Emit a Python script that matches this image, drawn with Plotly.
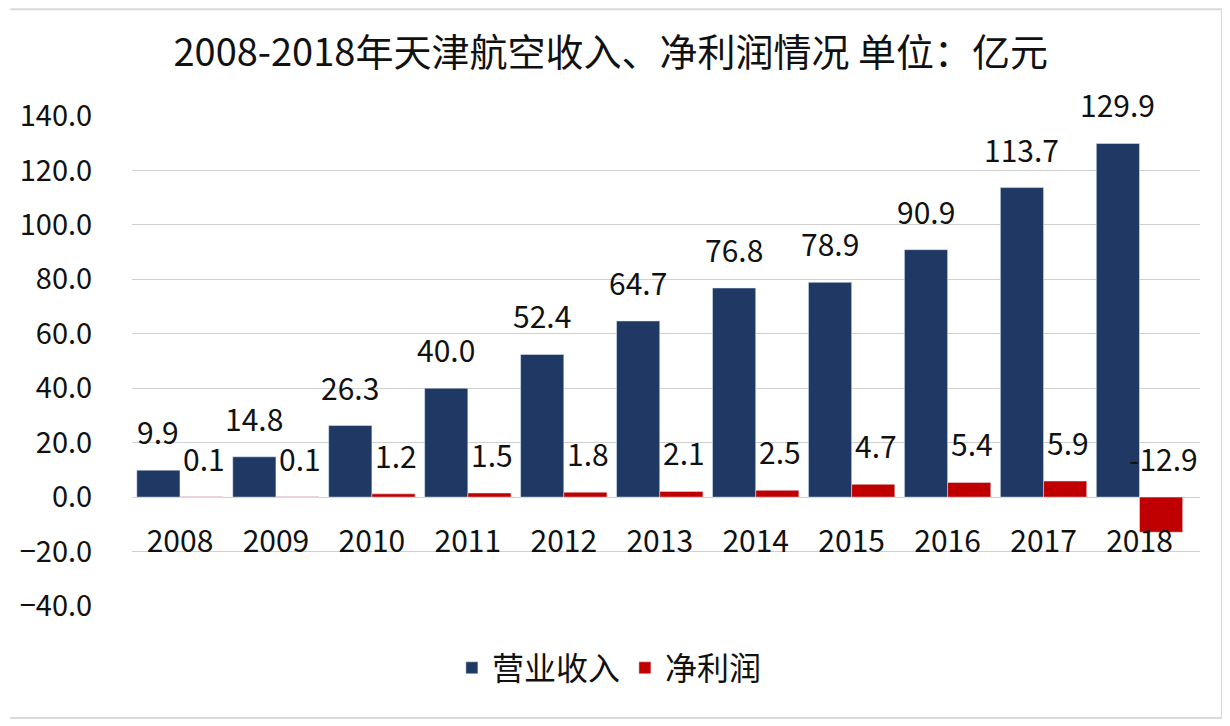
import plotly.graph_objects as go

years = ["2008", "2009", "2010", "2011", "2012", "2013", "2014", "2015", "2016", "2017", "2018"]
revenue = [9.9, 14.8, 26.3, 40.0, 52.4, 64.7, 76.8, 78.9, 90.9, 113.7, 129.9]
net_profit = [0.1, 0.1, 1.2, 1.5, 1.8, 2.1, 2.5, 4.7, 5.4, 5.9, -12.9]

NAVY = "#1F3864"
RED = "#C00000"
FONT = "Noto Sans CJK SC"

fig = go.Figure()
fig.add_trace(go.Bar(x=years, y=revenue, name="营业收入", marker_color=NAVY))
fig.add_trace(go.Bar(x=years, y=net_profit, name="净利润", marker_color=RED))

# value labels sit above the bar (or above zero for the negative one);
# x given as category index, since "2008" etc. would be read as a number
for i, v in enumerate(revenue):
    fig.add_annotation(x=i, y=v, text=f"{v:.1f}", showarrow=False, yanchor="bottom",
                       xshift=-22, yshift=15, font=dict(size=30, color="#111"))
for i, v in enumerate(net_profit):
    fig.add_annotation(x=i, y=max(v, 0), text=f"{v:.1f}", showarrow=False, yanchor="bottom",
                       xshift=24, yshift=15, font=dict(size=30, color="#111"))

fig.update_layout(
    width=1230, height=726,
    margin=dict(l=122, r=38, t=108, b=128),
    paper_bgcolor="white", plot_bgcolor="white",
    font=dict(family=FONT, color="#111"),
    title=dict(text="2008-2018年天津航空收入、净利润情况 单位：亿元", x=0.49, xanchor="center",
               y=0.939, yanchor="middle", font=dict(size=38, color="#111")),
    barmode="group", bargap=0.1, bargroupgap=0,
    showlegend=True,
    legend=dict(orientation="h", x=0.447, xanchor="center", y=-0.1265, yanchor="middle",
                font=dict(size=32)),
    xaxis=dict(type="category", anchor="free", position=40 / 180, showline=False,
               ticks="outside", ticklen=18, tickcolor="rgba(0,0,0,0)",
               tickfont=dict(size=30), showgrid=False),
    yaxis=dict(range=[-40, 140], dtick=20, tickformat=".1f", showgrid=True, gridcolor="#D0D0D0",
               gridwidth=1, zeroline=True, zerolinecolor="#D0D0D0", zerolinewidth=1,
               tickfont=dict(size=29), ticks="outside", ticklen=33, tickcolor="rgba(0,0,0,0)"),
    shapes=[dict(type="path", xref="paper", yref="paper",
                 path="M -0.114 1.218 L 1.0205 1.218 L 1.0205 -0.2286 L -0.114 -0.2286",
                 line=dict(color="#D9D9D9", width=2), layer="below")],
)

fig.write_html("out.html")
